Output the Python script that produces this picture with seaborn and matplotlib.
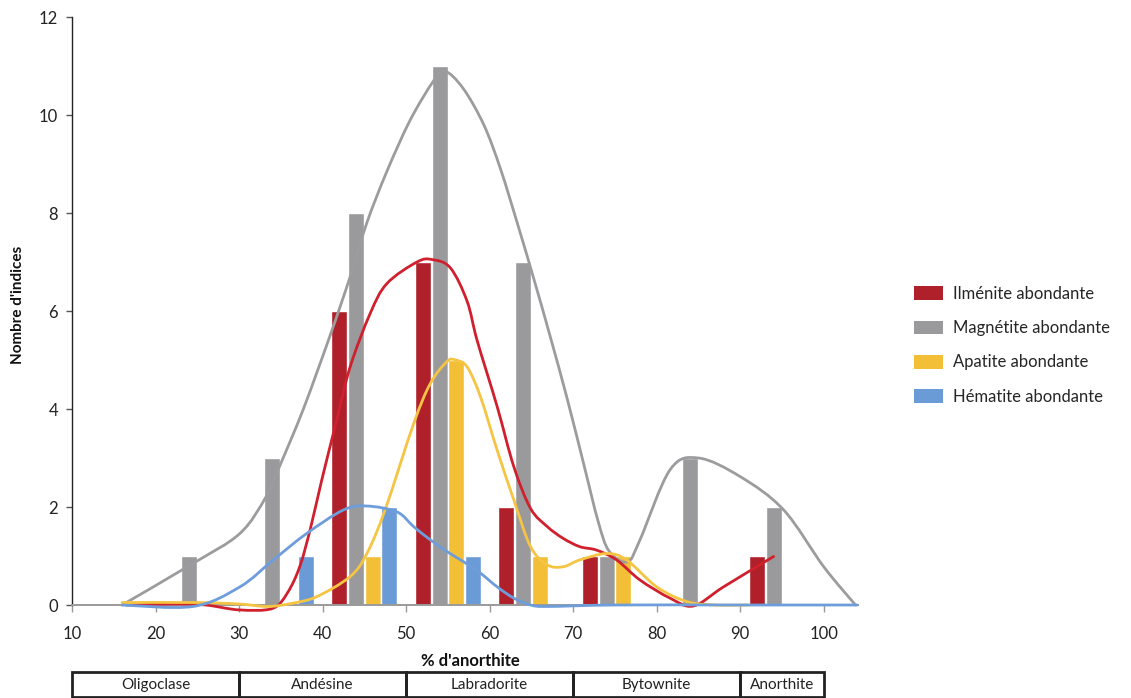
import numpy as np
import pandas as pd
import matplotlib
matplotlib.use('Agg')
import matplotlib.pyplot as plt
import matplotlib.transforms as mtransforms
from matplotlib.patches import Patch, PathPatch, Rectangle
from matplotlib.path import Path
import seaborn as sns

# bar counts per anorthite class (class centre in % An)
MINERALS = ['Ilménite abondante', 'Magnétite abondante', 'Apatite abondante', 'Hématite abondante']
CLASS_CENTERS = [25, 35, 45, 55, 65, 75, 85, 95]
ILMENITE = [0, 0, 6, 7, 2, 1, 0, 1]
MAGNETITE = [1, 3, 8, 11, 7, 1, 3, 2]
APATITE = [0, 0, 1, 5, 1, 1, 0, 0]
HEMATITE = [0, 1, 2, 1, 0, 0, 0, 0]

# smoothed trend lines as (x, y) pairs
ILM_CURVE_X = [16.5, 22, 26, 30, 34, 35.8, 37.3, 38.6, 39.9, 41.7, 43.3, 45.7, 47.7, 51.3, 53.1, 55.3,
               57.3, 58.5, 60.9, 62.9, 64.9, 66.9, 68.8, 70.8, 72.8, 75.2, 78.0, 81.6, 84.4, 88.0, 94.0]
ILM_CURVE_Y = [0, 0.02, 0, -0.1, -0.07, 0.25, 0.8, 1.6, 2.55, 3.78, 4.86, 5.95, 6.56, 7.0, 7.05, 6.88,
               6.2, 5.4, 4.05, 2.82, 1.97, 1.6, 1.36, 1.19, 1.12, 0.92, 0.51, 0.14, -0.02, 0.37, 0.99]
MAG_CURVE_X = [16, 24.5, 30.1, 33.2, 34.9, 37.7, 40.9, 43.3, 45.3, 47.7, 50.5, 53.3, 54.6, 56.8,
               59.3, 61.3, 63.3, 65.3, 67.3, 69.3, 71.3, 73.0, 74.3, 76.5, 78.0, 81.6, 85.0, 90.0,
               95.2, 100.0, 103.8]
MAG_CURVE_Y = [0, 0.85, 1.46, 2.2, 2.85, 4.0, 5.5, 6.7, 7.8, 8.85, 9.9, 10.7, 10.9, 10.55,
               9.8, 8.9, 7.8, 6.65, 5.45, 4.2, 2.85, 1.7, 1.1, 0.88, 1.33, 2.76, 3.0, 2.62,
               1.94, 0.78, 0]
APA_CURVE_X = [16, 25, 30, 33.5, 36.5, 39.3, 43.3, 45.3, 47.5, 50.9, 52.9, 54.9, 55.9, 57.3,
               58.9, 60.9, 62.9, 64.9, 66.9, 68.8, 70.8, 74.0, 76.4, 80.0, 83.6, 87.0, 91.0]
APA_CURVE_Y = [0.05, 0.05, 0.02, -0.03, 0.04, 0.17, 0.58, 1.05, 1.95, 3.7, 4.52, 4.97, 5.0, 4.86,
               4.25, 3.16, 2.14, 1.19, 0.82, 0.78, 0.92, 1.05, 0.92, 0.37, 0.07, 0.0, 0.0]
HEM_CURVE_X = [16, 24.5, 30.1, 34.1, 38.1, 42.5, 45.3, 48.9, 50.9, 52.9, 54.9, 56.9, 58.9,
               60.9, 62.9, 64.9, 66.9, 75, 90, 104]
HEM_CURVE_Y = [0, -0.03, 0.37, 0.92, 1.46, 1.94, 2.02, 1.9, 1.6, 1.33, 1.09, 0.88, 0.65,
               0.37, 0.14, 0.0, -0.03, 0.0, 0.0, 0.0]

PLAGIOCLASES = ['Oligoclase', 'Andésine', 'Labradorite', 'Bytownite', 'Anorthite']
PLAGIOCLASE_BOUNDS = [10, 30, 50, 70, 90, 100]
X_TICKS = [10, 20, 30, 40, 50, 60, 70, 80, 90, 100]
Y_TICKS = [0, 2, 4, 6, 8, 10, 12]

BAR_COLORS = ['#b0202a', '#9a9a9c', '#f2bf36', '#6a9bd6']
LINE_COLORS = ['#d0202e', '#9c9c9e', '#f5c443', '#6e9ddb']
BAR_OFFSETS = [-3, -1, 1, 3]


def smooth_path(xs, ys):
    # Catmull-Rom through the points, handed to matplotlib as cubic Bezier segments
    pts = np.column_stack([xs, ys]).astype(float)
    padded = np.vstack([pts[0], pts, pts[-1]])
    verts = [pts[0]]
    codes = [Path.MOVETO]
    for i in range(1, len(padded) - 2):
        p0, p1, p2, p3 = padded[i - 1], padded[i], padded[i + 1], padded[i + 2]
        verts += [p1 + (p2 - p0) / 6, p2 - (p3 - p1) / 6, p2]
        codes += [Path.CURVE4] * 3
    return Path(verts, codes)


sns.set_theme(style='white')
plt.rcParams['font.family'] = ['Lato', 'DejaVu Sans']

series = [ILMENITE, MAGNETITE, APATITE, HEMATITE]
bar_df = pd.concat([
    pd.DataFrame({
        'position': [c + off for c in CLASS_CENTERS],
        'count': values,
        'mineral': name,
    })
    for name, values, off in zip(MINERALS, series, BAR_OFFSETS)
], ignore_index=True)

fig = plt.figure(figsize=(11.31, 6.98), dpi=100)
ax = fig.add_axes([72 / 1131, 93 / 698, 786 / 1131, 588 / 698])

sns.barplot(
    data=bar_df, x='position', y='count', hue='mineral', hue_order=MINERALS,
    palette=dict(zip(MINERALS, BAR_COLORS)), native_scale=True, dodge=False,
    width=0.96, errorbar=None, saturation=1, legend=False, ax=ax, zorder=2,
)

curves = [
    (MAG_CURVE_X, MAG_CURVE_Y, LINE_COLORS[1]),
    (ILM_CURVE_X, ILM_CURVE_Y, LINE_COLORS[0]),
    (APA_CURVE_X, APA_CURVE_Y, LINE_COLORS[2]),
    (HEM_CURVE_X, HEM_CURVE_Y, LINE_COLORS[3]),
]
for xs, ys, color in curves:
    ax.add_patch(PathPatch(smooth_path(xs, ys), facecolor='none', edgecolor=color,
                           linewidth=2.0, zorder=3, clip_on=False, capstyle='round'))

ax.set_xlim(10, 104.1)
ax.set_ylim(0, 12)
ax.set_xticks(X_TICKS)
ax.set_yticks(Y_TICKS)
ax.tick_params(axis='x', length=5, width=1, color='#999999', labelsize=12, labelcolor='#222222', pad=10)
ax.tick_params(axis='y', length=4, width=1, color='#555555', labelsize=12, labelcolor='#222222', pad=6)
ax.tick_params(bottom=True, left=True)
ax.set_xlabel('')
ax.set_ylabel('')
for side in ['top', 'right']:
    ax.spines[side].set_visible(False)
ax.spines['left'].set_color('#222222')
ax.spines['left'].set_linewidth(1.0)
ax.spines['bottom'].set_color('#9a9a9a')
ax.spines['bottom'].set_linewidth(1.4)
ax.grid(False)

fig.text(470 / 1131, 1 - 661 / 698, "% d'anorthite", ha='center', va='center',
         fontsize=12, fontweight='bold', color='#111111')
fig.text(18 / 1131, 1 - 305 / 698, "Nombre d'indices", ha='center', va='center',
         rotation=90, fontsize=11, fontweight='bold', color='#111111')

# plagioclase names table under the axis
trans = mtransforms.blended_transform_factory(ax.transData, ax.transAxes)
row_top, row_bottom = -0.114, -0.1565
for name, x0, x1 in zip(PLAGIOCLASES, PLAGIOCLASE_BOUNDS[:-1], PLAGIOCLASE_BOUNDS[1:]):
    ax.add_patch(Rectangle((x0, row_bottom), x1 - x0, row_top - row_bottom, transform=trans,
                           fill=False, edgecolor='#222222', linewidth=2.0, clip_on=False))
    ax.text((x0 + x1) / 2, (row_top + row_bottom) / 2, name, transform=trans,
            ha='center', va='center', fontsize=11, color='#222222')

handles = [Patch(facecolor=c, edgecolor='none', label=l) for c, l in zip(BAR_COLORS, MINERALS)]
fig.legend(handles=handles, loc='upper left', bbox_to_anchor=(914 / 1131, 1 - 286 / 698),
           frameon=False, fontsize=12, handlelength=1.75, handleheight=0.9,
           handletextpad=0.6, labelspacing=1.09, borderpad=0, borderaxespad=0)

fig.savefig('out.png', dpi=100)
